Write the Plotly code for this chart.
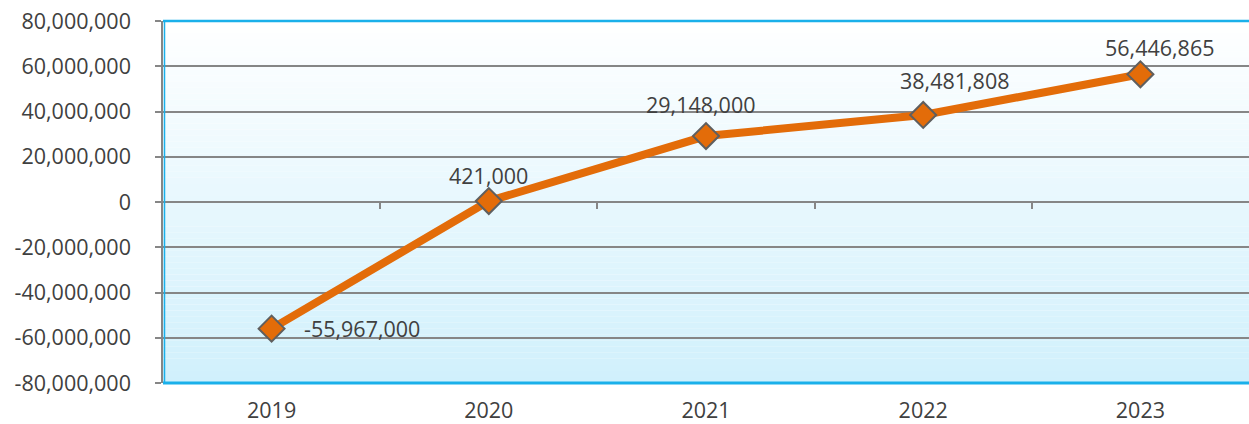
import plotly.graph_objects as go

years = ["2019", "2020", "2021", "2022", "2023"]
values = [-55967000, 421000, 29148000, 38481808, 56446865]
labels = ["-55,967,000", "421,000", "29,148,000", "38,481,808", "56,446,865"]
y_ticks = [-80000000, -60000000, -40000000, -20000000, 0, 20000000, 40000000, 60000000, 80000000]
y_tick_text = ["-80,000,000", "-60,000,000", "-40,000,000", "-20,000,000", "0",
               "20,000,000", "40,000,000", "60,000,000", "80,000,000"]
# label offsets (pixels) relative to each point
label_dx = [90, 0, -6, 31, 19]
label_dy = [0, 26, 32, 34, 27]

FONT = "Open Sans"
TXT = "#404040"
ORANGE = "#E36C09"
BLUE = "#1AB0EA"
GREY = "#868686"
FS = 21.5

fig = go.Figure()

# gradient background of the plot area
n = 60
top = (255, 255, 255)
bot = (208, 240, 252)
shapes = []
for i in range(n):
    t = (i + 0.5) / n
    c = tuple(round(top[k] + (bot[k] - top[k]) * t) for k in range(3))
    shapes.append(dict(type="rect", xref="paper", yref="paper",
                       x0=0, x1=1, y0=1 - (i + 1) / n, y1=1 - i / n,
                       fillcolor="rgb(%d,%d,%d)" % c, line=dict(width=0), layer="below"))

fig.add_trace(go.Scatter(
    x=years, y=values, mode="lines+markers",
    line=dict(color=ORANGE, width=8),
    marker=dict(symbol="diamond", size=20, color=ORANGE,
                line=dict(color="#5f5f5f", width=2)),
    hoverinfo="skip", showlegend=False,
))

# blue plot-area border
shapes += [
    dict(type="line", xref="paper", yref="paper", x0=0, x1=1, y0=1, y1=1,
         line=dict(color=BLUE, width=2.5), layer="above"),
    dict(type="line", xref="paper", yref="paper", x0=0, x1=1, y0=0, y1=0,
         line=dict(color=BLUE, width=3), layer="above"),
    dict(type="line", xref="paper", yref="paper", xsizemode="pixel", xanchor=0,
         x0=1.5, x1=1.5, y0=0, y1=1, line=dict(color=BLUE, width=1.5), layer="above"),
]

fig.update_layout(
    width=1249, height=424,
    margin=dict(l=163, r=0, t=21, b=41),
    paper_bgcolor="white", plot_bgcolor="rgba(0,0,0,0)",
    font=dict(family=FONT, size=FS, color=TXT),
    shapes=shapes,
    xaxis=dict(type="category", range=[-0.5, 4.5], showgrid=False, zeroline=False,
               showline=False, ticks="", tickfont=dict(size=FS, color=TXT),
               ticklabelstandoff=12),
    xaxis2=dict(overlaying="x", anchor="free", position=0.5, range=[-0.5, 4.5],
                tickvals=[0.5, 1.5, 2.5, 3.5], ticks="outside", ticklen=6,
                tickcolor=GREY, tickwidth=1.5, showticklabels=False,
                showgrid=False, zeroline=False, showline=False),
    yaxis=dict(range=[-80000000, 80000000], tickvals=y_ticks, ticktext=y_tick_text,
               showgrid=True, gridcolor=GREY, gridwidth=1.5, zeroline=False,
               showline=True, linecolor=GREY, linewidth=1.5,
               ticks="outside", ticklen=6, tickcolor=GREY, tickwidth=1.5,
               tickfont=dict(size=FS, color=TXT), ticklabelstandoff=20),
)
# dummy invisible trace so xaxis2 renders
fig.add_trace(go.Scatter(x=[0], y=[0], xaxis="x2", mode="markers",
                         marker=dict(opacity=0), hoverinfo="skip", showlegend=False))

for i, (v, s, dx, dy) in enumerate(zip(values, labels, label_dx, label_dy)):
    fig.add_annotation(x=i, y=v, xref="x", yref="y", text=s, showarrow=False,
                       xshift=dx, yshift=dy,
                       font=dict(family=FONT, size=FS, color=TXT))

fig.write_html("out.html")
